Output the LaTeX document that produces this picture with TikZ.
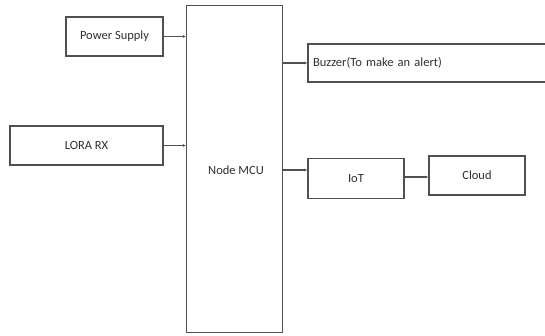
\documentclass[tikz,border=0pt]{standalone}
\usepackage{fontspec}
\setmainfont{Carlito}
\usetikzlibrary{arrows.meta}
\definecolor{edge}{HTML}{505050}
\definecolor{ink}{HTML}{303030}
\tikzset{
  blockbox/.style={draw=edge, line width=1.3pt, fill=white, inner sep=0pt,
    text=ink, font=\fontsize{12.5}{14}\selectfont},
  link/.style={draw=edge, line width=1.2pt, -{Latex[length=3pt,width=3pt]}}
}
\begin{document}
\begin{tikzpicture}[x=1pt,y=-1pt]
  \useasboundingbox (0,0) rectangle (545,335);
  \clip (0,0) rectangle (545,335);
  % controller block
  \node[blockbox, minimum width=96pt, minimum height=327pt] (mcu) at (234.5,169) {};
  \node[text=ink, font=\fontsize{12.5}{14}\selectfont] (mcutext) at (236,170) {Node MCU};
  % inputs
  \node[blockbox, minimum width=97pt, minimum height=39pt] (ps) at (114.5,36.5) {Power Supply};
  \node[blockbox, minimum width=153pt, minimum height=39pt] (lora) at (86.5,145.5) {LORA RX};
  % outputs
  \node[blockbox, minimum width=250pt, minimum height=38pt, text width=240pt,
        align=left, inner xsep=5pt] (buz) at (433,63) {Buzzer(To make an alert)};
  \node[blockbox, minimum width=96pt, minimum height=40pt] (iot) at (356,178.5) {IoT};
  \node[blockbox, minimum width=96pt, minimum height=39pt] (cloud) at (477,175.5) {Cloud};
  % connections
  \draw[link] (ps.east) -- (ps.east -| mcu.west);
  \draw[link] (lora.east) -- (lora.east -| mcu.west);
  \draw[link] (buz.west -| mcu.east) -- (buz.west);
  \draw[link] ([yshift=8.5pt]iot.west -| mcu.east) -- ([yshift=8.5pt]iot.west);
  \draw[link] ([yshift=1.5pt]iot.east) -- ([yshift=1.5pt]iot.east -| cloud.west);
\end{tikzpicture}
\end{document}
